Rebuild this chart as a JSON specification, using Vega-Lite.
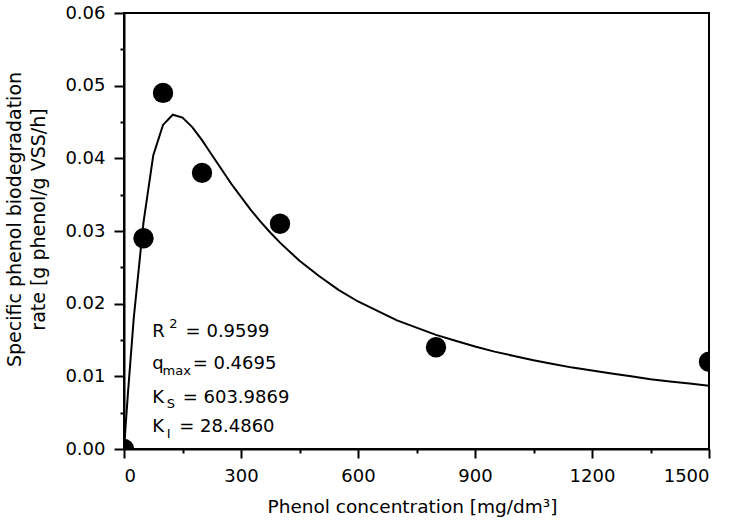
{
  "$schema": "https://vega.github.io/schema/vega-lite/v6.json",
  "width": 585,
  "height": 436,
  "autosize": {"type": "none"},
  "padding": {"left": 124, "top": 13, "right": 23, "bottom": 74},
  "background": "white",
  "config": {
    "font": "DejaVu Sans",
    "view": {"stroke": "black", "strokeWidth": 2},
    "axis": {
      "domainColor": "black", "domainWidth": 2, "tickColor": "black", "tickWidth": 2,
      "labelColor": "black", "labelFontSize": 18, "labelFont": "DejaVu Sans",
      "titleColor": "black", "titleFontSize": 18, "titleFont": "DejaVu Sans", "titleFontWeight": "normal",
      "grid": false
    }
  },
  "datasets": {
    "curve": [
      {"S": 0, "q": 0}, {"S": 10, "q": 0.0076}, {"S": 25, "q": 0.0180}, {"S": 50, "q": 0.0312},
      {"S": 75, "q": 0.0404}, {"S": 100, "q": 0.0446}, {"S": 125, "q": 0.0460}, {"S": 150, "q": 0.0456},
      {"S": 175, "q": 0.0443}, {"S": 200, "q": 0.0425}, {"S": 225, "q": 0.0405}, {"S": 250, "q": 0.0385},
      {"S": 275, "q": 0.0365}, {"S": 300, "q": 0.0347}, {"S": 325, "q": 0.0329}, {"S": 350, "q": 0.0313},
      {"S": 375, "q": 0.0298}, {"S": 400, "q": 0.0284}, {"S": 450, "q": 0.0259}, {"S": 500, "q": 0.0238},
      {"S": 550, "q": 0.0219}, {"S": 600, "q": 0.0203}, {"S": 650, "q": 0.0190}, {"S": 700, "q": 0.0177},
      {"S": 750, "q": 0.0167}, {"S": 800, "q": 0.0157}, {"S": 850, "q": 0.0149}, {"S": 900, "q": 0.0141},
      {"S": 950, "q": 0.0134}, {"S": 1000, "q": 0.0128}, {"S": 1050, "q": 0.0122}, {"S": 1100, "q": 0.0117},
      {"S": 1150, "q": 0.0112}, {"S": 1200, "q": 0.0108}, {"S": 1250, "q": 0.0104}, {"S": 1300, "q": 0.0100},
      {"S": 1350, "q": 0.0096}, {"S": 1400, "q": 0.0093}, {"S": 1450, "q": 0.0090}, {"S": 1500, "q": 0.0087}
    ],
    "points": [
      {"S": 0, "q": 0}, {"S": 50, "q": 0.029}, {"S": 100, "q": 0.049}, {"S": 200, "q": 0.038},
      {"S": 400, "q": 0.031}, {"S": 800, "q": 0.014}, {"S": 1500, "q": 0.012}
    ],
    "labels": [
      {"x": 72.6, "y": 0.01545, "t": "R"},
      {"x": 158, "y": 0.01545, "t": "= 0.9599"},
      {"x": 72.6, "y": 0.01097, "t": "q"},
      {"x": 176, "y": 0.01097, "t": "= 0.4695"},
      {"x": 72.6, "y": 0.00637, "t": "K"},
      {"x": 150.5, "y": 0.00637, "t": "= 603.9869"},
      {"x": 72.6, "y": 0.00234, "t": "K"},
      {"x": 141.8, "y": 0.00234, "t": "= 28.4860"}
    ],
    "subs": [
      {"x": 116, "y": 0.0166, "t": "2"},
      {"x": 99, "y": 0.0102, "t": "max"},
      {"x": 109.4, "y": 0.0056, "t": "S"},
      {"x": 109.4, "y": 0.00156, "t": "I"}
    ]
  },
  "layer": [
    {
      "data": {"name": "curve"},
      "mark": {"type": "line", "color": "black", "strokeWidth": 2, "clip": true},
      "encoding": {
        "x": {"field": "S", "type": "quantitative",
              "scale": {"domain": [0, 1500], "nice": false, "zero": false},
              "axis": {"orient": "bottom", "values": [0, 300, 600, 900, 1200, 1500], "format": "d",
                       "tickSize": 9, "labelPadding": 9, "title": "Phenol concentration [mg/dm³]",
                       "titleFontSize": 18.5, "titleX": 288, "titleY": 48, "titleBaseline": "top"}},
        "y": {"field": "q", "type": "quantitative",
              "scale": {"domain": [0, 0.06], "nice": false, "zero": false},
              "axis": {"orient": "left", "values": [0, 0.01, 0.02, 0.03, 0.04, 0.05, 0.06], "format": ".2f",
                       "tickSize": 10, "labelPadding": 9,
                       "title": ["Specific phenol biodegradation", "rate [g phenol/g VSS/h]"],
                       "titleFontSize": 19, "titleLineHeight": 24, "titleX": -100, "titleY": 206}}
      }
    },
    {
      "data": {"name": "points"},
      "mark": {"type": "point", "filled": true, "color": "black", "opacity": 1, "size": 415, "clip": true},
      "encoding": {
        "x": {"field": "S", "type": "quantitative",
              "axis": {"orient": "bottom", "values": [150, 450, 750, 1050, 1350], "tickSize": 4,
                       "labels": false, "domain": false, "title": null}},
        "y": {"field": "q", "type": "quantitative",
              "axis": {"orient": "left", "values": [0.005, 0.015, 0.025, 0.035, 0.045, 0.055], "tickSize": 4,
                       "labels": false, "domain": false, "title": null}}
      }
    },
    {
      "data": {"name": "labels"},
      "mark": {"type": "text", "align": "left", "baseline": "alphabetic", "fontSize": 18, "color": "black"},
      "encoding": {
        "x": {"field": "x", "type": "quantitative", "axis": null},
        "y": {"field": "y", "type": "quantitative", "axis": null},
        "text": {"field": "t"}
      }
    },
    {
      "data": {"name": "subs"},
      "mark": {"type": "text", "align": "left", "baseline": "alphabetic", "fontSize": 13, "color": "black"},
      "encoding": {
        "x": {"field": "x", "type": "quantitative", "axis": null},
        "y": {"field": "y", "type": "quantitative", "axis": null},
        "text": {"field": "t"}
      }
    }
  ],
  "resolve": {"axis": {"x": "independent", "y": "independent"}}
}
